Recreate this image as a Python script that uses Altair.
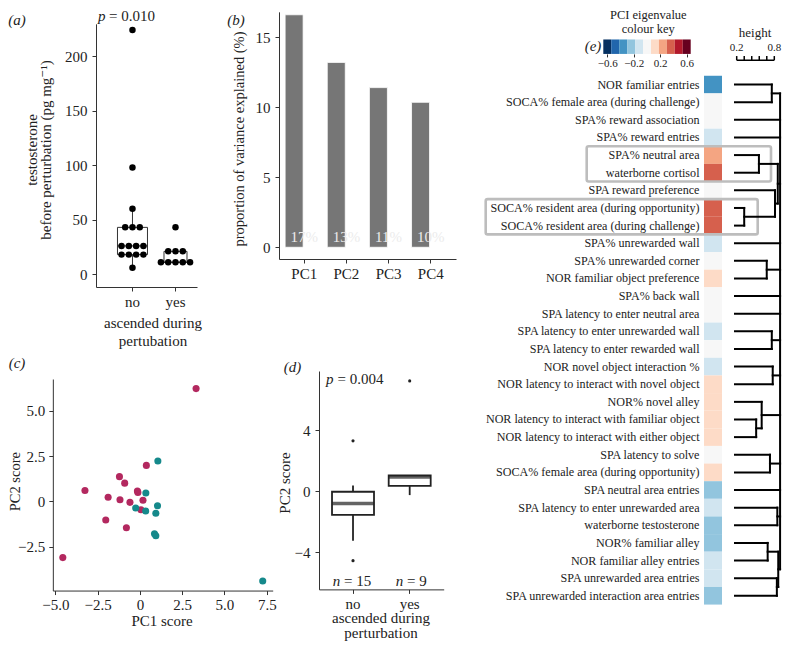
import altair as alt
import pandas as pd
import numpy as np

SERIF = "Liberation Serif, DejaVu Serif, serif"
INK = "#222222"
W, H = 776, 633


def X(x):
    # reference pixel -> chart pixel (page margin 8)
    return round(float(np.interp(x, [2, 60, 784], [8, 60, 784])) - 8, 2)


def Y(y):
    return round(float(np.interp(y, [4, 80, 560, 649], [10, 80, 560, 640])) - 8, 2)


# ---------------- data ----------------
# (a) testosterone before perturbation, by group
testo_no = [224, 98, 60, 43, 43, 43, 26, 26, 26, 26, 18, 18, 18, 18, 6]
testo_yes = [43, 21, 21, 21, 11, 11, 11, 11, 11]

# (b) variance explained
pcs = ["PC1", "PC2", "PC3", "PC4"]
var_expl = [16.6, 13.2, 11.4, 10.35]
var_labels = ["17%", "13%", "11%", "10%"]

# (c) PCA scores
pc1_no = [3.32, 0.38, -1.21, -0.90, -3.25, -0.15, -0.12, -1.88, -1.18, -0.59, 0.18, 0.06, -2.02, -0.80, -4.56]
pc2_no = [6.23, 1.99, 1.37, 1.01, 0.60, 0.58, 0.50, 0.23, 0.09, -0.05, 0.07, -0.46, -1.02, -1.45, -3.10]
pc1_yes = [1.06, 0.35, -0.25, 0.34, 1.04, 0.94, 0.86, 0.94, 7.26]
pc2_yes = [2.23, 0.47, -0.36, -0.53, -0.24, -0.65, -1.78, -1.89, -4.39]

# (e) traits, eigenvalues and dendrogram
traits = [
    "NOR familiar entries",
    "SOCA% female area (during challenge)",
    "SPA% reward association",
    "SPA% reward entries",
    "SPA% neutral area",
    "waterborne cortisol",
    "SPA reward preference",
    "SOCA% resident area (during opportunity)",
    "SOCA% resident area (during challenge)",
    "SPA% unrewarded wall",
    "SPA% unrewarded corner",
    "NOR familiar object preference",
    "SPA% back wall",
    "SPA latency to enter neutral area",
    "SPA latency to enter unrewarded wall",
    "SPA latency to enter rewarded wall",
    "NOR novel object interaction %",
    "NOR latency to interact with novel object",
    "NOR% novel alley",
    "NOR latency to interact with familiar object",
    "NOR latency to interact with either object",
    "SPA latency to solve",
    "SOCA% female area (during opportunity)",
    "SPA neutral area entries",
    "SPA latency to enter unrewarded area",
    "waterborne testosterone",
    "NOR% familiar alley",
    "NOR familiar alley entries",
    "SPA unrewarded area entries",
    "SPA unrewarded interaction area entries",
]
eigen = [-0.38, 0.0, 0.0, -0.15, 0.25, 0.40, 0.0, 0.40, 0.40, -0.15,
         0.0, 0.15, 0.0, 0.0, -0.15, 0.0, -0.15, 0.15, 0.15, 0.15,
         0.15, 0.0, 0.15, -0.25, -0.15, -0.25, -0.25, -0.15, -0.15, -0.25]

dendro_nodes = [
    ("A", [1, 2], 0.80),
    ("B", [5, 6], 0.52),
    ("C", [8, 9], 0.20),
    ("D", [7, "C"], 0.87),
    ("E", ["B", "D"], 0.93),
    ("F", [11, 12], 0.69),
    ("G", [15, 16], 0.80),
    ("H", [17, 18], 0.82),
    ("I", [20, 21], 0.46),
    ("J", [19, "I"], 0.58),
    ("K", [22, 23], 0.76),
    ("L", [25, 26], 0.92),
    ("M", [27, 28], 0.71),
    ("N", [29, 30], 0.91),
    ("O", ["M", "N"], 0.94),
    ("root", ["A", 3, 4, "E", 10, "F", 13, 14, "G", "H", "J", "K", 24, "L", "O"], 0.98),
]
highlight_rows = [(5, 6), (8, 9)]

RDBU = ["#053061", "#2166ac", "#4393c3", "#92c5de", "#d1e5f0", "#f7f7f7",
        "#fddbc7", "#f4a582", "#d6604d", "#b2182b", "#67001f"]
key_edges = list(np.round(np.linspace(-0.66, 0.66, 12), 3))
height_ticks = [0.2, 0.32, 0.44, 0.56, 0.68, 0.8]

MAG = "#b3285f"
TEAL = "#15898b"


# ---------------- helpers ----------------
def T(s, x, y, size=15, angle=0, align="center", italic=False, color=INK, baseline="middle"):
    kw = dict(text=s, fontSize=size, font=SERIF, align=align, baseline=baseline, color=color)
    if angle:
        kw["angle"] = angle
    if italic:
        kw["fontStyle"] = "italic"
    return alt.Chart(alt.Data(values=[{}])).mark_text(**kw).encode(
        x=alt.value(X(x)), y=alt.value(Y(y)))


# ---------------- panel (a) ----------------
da = pd.DataFrame({"grp": ["no"] * len(testo_no) + ["yes"] * len(testo_yes),
                   "val": testo_no + testo_yes})
g = da.groupby(["grp", "val"])
da["slot"] = g.cumcount() - (g["val"].transform("size") - 1) / 2

XA = alt.X("grp:N", scale=alt.Scale(domain=["no", "yes"], range=[X(96), X(197)],
                                    paddingInner=0, paddingOuter=0.174, align=1),
           axis=alt.Axis(orient="bottom", offset=Y(287) - H, labelAngle=0, title=None, labelPadding=3))
YA = alt.Y("val:Q", scale=alt.Scale(domain=[-11.7, 229.7], range=[Y(287), Y(19)], nice=False, zero=False),
           axis=alt.Axis(orient="left", offset=-X(96), values=[0, 50, 100, 150, 200], title=None))
a_style = dict(extent=1.5, outliers=False,
               box={"fill": "white", "stroke": "#333333", "strokeWidth": 1},
               median={"color": INK, "thickness": 1.5},
               rule={"color": "#333333", "strokeWidth": 1})
a_box_no = alt.Chart(da[da.grp == "no"]).mark_boxplot(size=30, **a_style).encode(x=XA, y=YA)
a_box_yes = alt.Chart(da[da.grp == "yes"]).mark_boxplot(size=23, **a_style).encode(x=XA, y=YA)
a_dots = alt.Chart(da).mark_circle(size=42, color="black", opacity=1).encode(
    x=XA, y=YA, xOffset=alt.XOffset("slot:Q", scale=alt.Scale(domain=[-2.95, 2.95])))
panelA = alt.layer(a_box_no, a_box_yes, a_dots)

# ---------------- panel (b) ----------------
db = pd.DataFrame({"pc": pcs, "v": var_expl, "lab": var_labels})
XB = alt.X("pc:N", sort=pcs, scale=alt.Scale(domain=pcs, range=[X(279), X(456)],
                                             paddingInner=0.09, paddingOuter=0.145),
           axis=alt.Axis(orient="bottom", offset=Y(259) - H, labelAngle=0, title=None, labelPadding=3))
YB = alt.Y("v:Q", scale=alt.Scale(domain=[-0.837, 16.81], range=[Y(259), Y(6)], nice=False, zero=False),
           axis=alt.Axis(orient="left", offset=-X(279), values=[0, 5, 10, 15], title=None))
b_bars = alt.Chart(db).mark_bar(color="#767676", stroke="white", strokeWidth=0.8).encode(
    x=XB, y=YB, y2=alt.datum(0))
b_text = alt.Chart(db).mark_text(baseline="bottom", dy=-2, color="#ececec", fontSize=15, font=SERIF).encode(
    x=XB, y=alt.datum(0), text="lab:N")
panelB = alt.layer(b_bars, b_text)

# ---------------- panel (c) ----------------
dc = pd.DataFrame({"pc1": pc1_no + pc1_yes, "pc2": pc2_no + pc2_yes,
                   "grp": ["no"] * len(pc1_no) + ["yes"] * len(pc1_yes)})
lab_expr = "datum.value == 0 ? '0' : format(datum.value, '.1f')"
panelC = alt.Chart(dc).mark_circle(size=50, opacity=1).encode(
    x=alt.X("pc1:Q", scale=alt.Scale(domain=[-5.15, 7.85], range=[X(52), X(272.7)], nice=False, zero=False),
            axis=alt.Axis(orient="bottom", offset=Y(594) - H, values=[-5, -2.5, 0, 2.5, 5, 7.5],
                          labelExpr=lab_expr, title=None, labelPadding=3)),
    y=alt.Y("pc2:Q", scale=alt.Scale(domain=[-4.92, 6.76], range=[Y(594), Y(379)], nice=False, zero=False),
            axis=alt.Axis(orient="left", offset=-X(52), values=[-2.5, 0, 2.5, 5], labelExpr=lab_expr,
                          title=None, labelPadding=4)),
    color=alt.Color("grp:N", scale=alt.Scale(domain=["no", "yes"], range=[MAG, TEAL]), legend=None),
)

# ---------------- panel (d) ----------------
XD = alt.X("grp:N", scale=alt.Scale(domain=["no", "yes"], range=[X(319), X(443.7)],
                                    paddingInner=0, paddingOuter=0.1),
           axis=alt.Axis(orient="bottom", offset=Y(592.7) - H, labelAngle=0, title=None, labelPadding=3))
YD = alt.Y("pc1:Q", scale=alt.Scale(domain=[-6.45, 7.91], range=[Y(592.7), Y(371)], nice=False, zero=False),
           axis=alt.Axis(orient="left", offset=-X(319), values=[-4, 0, 4], title=None))
panelD = alt.Chart(dc).mark_boxplot(
    size=42, extent=1.5,
    box={"fill": "white", "stroke": INK, "strokeWidth": 1.8},
    median={"color": INK, "thickness": 3.5},
    rule={"color": INK, "strokeWidth": 1.8},
    outliers={"color": INK, "size": 10, "filled": True, "opacity": 1},
).encode(x=XD, y=YD)

# ---------------- panel (e) ----------------
ROWY = alt.Scale(domain=[0.5, 30.5], range=[Y(75.4), Y(609.6)], nice=False, zero=False)
COLS = alt.Scale(type="quantize", domain=[-0.66, 0.66], range=RDBU, nice=False, zero=False)

de = pd.DataFrame({"row": list(range(1, len(traits) + 1)), "trait": traits, "eig": eigen, "col": "PC1"})
e_heat = alt.Chart(de).transform_calculate(lo="datum.row - 0.5", hi="datum.row + 0.5").mark_rect().encode(
    x=alt.X("col:N", scale=alt.Scale(domain=["PC1"], range=[X(704), X(725.7)], paddingInner=0, paddingOuter=0),
            axis=None),
    y=alt.Y("lo:Q", scale=ROWY, axis=None), y2="hi:Q",
    color=alt.Color("eig:Q", scale=COLS, legend=None))
e_labels = alt.Chart(de).mark_text(align="right", baseline="middle", fontSize=12.1, font=SERIF, color=INK).encode(
    x=alt.value(X(699.5)), y=alt.Y("row:Q", scale=ROWY, axis=None), text="trait:N")

# dendrogram segments from the merge table
pos = {r: float(r) for r in range(1, len(traits) + 1)}
hgt = {r: 0.0 for r in range(1, len(traits) + 1)}
segs = []
for name, ch, h in dendro_nodes:
    ys = [pos[c] for c in ch]
    segs.append(dict(x=h, x2=h, y=min(ys), y2=max(ys)))
    for c in ch:
        segs.append(dict(x=hgt[c], x2=h, y=pos[c], y2=pos[c]))
    pos[name] = (min(ys) + max(ys)) / 2
    hgt[name] = h
dseg = pd.DataFrame(segs)
e_dendro = alt.Chart(dseg).mark_rule(color="black", strokeWidth=2, strokeCap="square").encode(
    x=alt.X("x:Q", scale=alt.Scale(domain=[0, 1], range=[X(735), X(781)], nice=False, zero=False), axis=None),
    x2="x2:Q",
    y=alt.Y("y:Q", scale=ROWY, axis=None), y2="y2:Q")

box_x = [(586.7, 771.0), (485.7, 757.7)]
e_boxes = []
for (r0, r1), (bx0, bx1) in zip(highlight_rows, box_x):
    e_boxes.append(
        alt.Chart(alt.Data(values=[{"r0": r0 - 0.5, "r1": r1 + 0.5}])).mark_rect(
            fillOpacity=0, stroke="#bdbdbd", strokeWidth=2.6, cornerRadius=2).encode(
            x=alt.value(X(bx0)), x2=alt.value(X(bx1)),
            y=alt.Y("r0:Q", scale=ROWY, axis=None), y2="r1:Q"))

dkey = pd.DataFrame({"lo": key_edges[:-1], "hi": key_edges[1:]})
dkey["mid"] = (dkey["lo"] + dkey["hi"]) / 2
KX = alt.X("lo:Q", scale=alt.Scale(domain=[-0.66, 0.66], range=[X(603.3), X(690.7)], nice=False, zero=False),
           axis=alt.Axis(orient="bottom", offset=Y(51.7) - H, values=[-0.6, -0.2, 0.2, 0.6], domain=False,
                         tickSize=3, labelFontSize=11, labelPadding=1, title=None))
key_rects = alt.Chart(dkey).mark_rect().encode(
    x=KX, x2="hi:Q", y=alt.value(Y(36)), y2=alt.value(Y(51.7)),
    color=alt.Color("mid:Q", scale=COLS, legend=None))
colour_key = alt.layer(key_rects)

dht = pd.DataFrame({"t": height_ticks})
HX = alt.Scale(domain=[0.2, 0.8], range=[X(736.7), X(774.3)], nice=False, zero=False)
ht_line = alt.Chart(alt.Data(values=[{"a": 0.2, "b": 0.8}])).mark_rule(color="black", strokeWidth=1.6).encode(
    x=alt.X("a:Q", scale=HX, axis=None), x2="b:Q", y=alt.value(Y(58.5)))
ht_ticks = alt.Chart(dht).mark_rule(color="black", strokeWidth=1.5).encode(
    x=alt.X("t:Q", scale=HX, axis=None), y=alt.value(Y(54)), y2=alt.value(Y(58.5)))
ht_labels = alt.Chart(dht).transform_filter("datum.t == 0.2 || datum.t == 0.8").mark_text(
    fontSize=11, font=SERIF, color=INK, baseline="middle").encode(
    x=alt.X("t:Q", scale=HX, axis=None), y=alt.value(Y(45.7)), text=alt.Text("t:Q", format=".1f"))
height_key = alt.layer(ht_line, ht_ticks, ht_labels)

panelE = alt.layer(e_heat, *e_boxes, e_dendro, e_labels, colour_key, height_key).resolve_scale(x="independent")

# ---------------- annotations ----------------
ann = [
    T("(a)", 12, 15, italic=True),
    T("p", 98, 10.5, align="left", italic=True),
    T("= 0.010", 109, 10.5, align="left"),
    T("testosterone", 29, 150, angle=270),
    T("before perturbation (pg mg\u207b\u00b9)", 44.5, 150, angle=270),
    T("ascended during", 153, 322.7),
    T("pertubation", 153, 340.7),
    T("(b)", 236, 15, italic=True),
    T("proportion of variance explained (%)", 240, 139, angle=270, size=14.5),
    T("(c)", 12, 363, italic=True),
    T("PC2 score", 11.2, 481.7, angle=270, size=14.5),
    T("PC1 score", 162, 628),
    T("(d)", 292.5, 366.7, italic=True),
    T("p", 326, 379, align="left", italic=True),
    T("= 0.004", 337.5, 379, align="left"),
    T("PC2 score", 285, 483),
    T("n", 332.7, 583.3, align="left", italic=True),
    T("= 15", 344, 583.3, align="left"),
    T("n", 395.7, 583.3, align="left", italic=True),
    T("= 9", 407, 583.3, align="left"),
    T("ascended during", 381, 625),
    T("perturbation", 381, 641.5),
    T("(e)", 593, 42.7, italic=True),
    T("PCI eigenvalue", 648.3, 9.3, size=12.5),
    T("colour key", 648.3, 24.2, size=12.5),
    T("height", 755, 29, size=13),
]
# panel (d) y title is vertical
ann[15] = T("PC2 score", 285, 483, angle=270)

chart = alt.layer(panelA, panelB, panelC, panelD, panelE, *ann).resolve_scale(
    x="independent", y="independent", color="independent"
).properties(
    width=W, height=H, padding=0, autosize=alt.AutoSizeParams(type="none"), background="white"
).configure_view(strokeWidth=0).configure_axis(
    labelFont=SERIF, labelFontSize=15, labelColor=INK, domainColor="#333333", tickColor="#333333",
    domainWidth=1, tickWidth=1, tickSize=4, labelPadding=5, grid=False, titleFont=SERIF
)

chart.save("out.html", embed_options={"renderer": "svg", "actions": False})
